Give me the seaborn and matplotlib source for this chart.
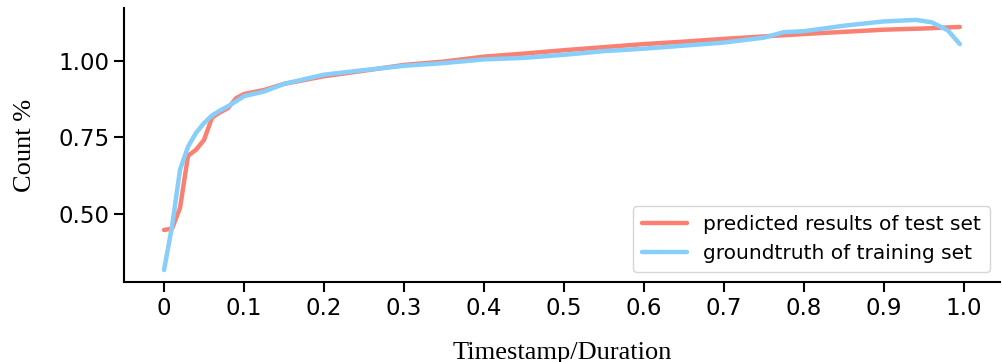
import pandas as pd
import matplotlib
matplotlib.use("Agg")
import matplotlib.pyplot as plt
import seaborn as sns

# predicted results of test set
x_pred = [0.00, 0.01, 0.02, 0.03, 0.04, 0.05, 0.06, 0.07, 0.08, 0.09, 0.10,
          0.125, 0.15, 0.20, 0.25, 0.30, 0.35, 0.40, 0.45, 0.50, 0.55, 0.60,
          0.65, 0.70, 0.75, 0.80, 0.85, 0.90, 0.95, 0.995]
y_pred = [0.448, 0.452, 0.520, 0.690, 0.710, 0.742, 0.815, 0.832, 0.846, 0.878, 0.892,
          0.905, 0.925, 0.950, 0.968, 0.987, 0.998, 1.014, 1.024, 1.035, 1.045, 1.055,
          1.063, 1.072, 1.080, 1.088, 1.095, 1.102, 1.106, 1.111]

# groundtruth of training set
x_true = [0.00, 0.01, 0.02, 0.03, 0.04, 0.05, 0.06, 0.07, 0.08, 0.09, 0.10,
          0.125, 0.15, 0.20, 0.25, 0.30, 0.35, 0.40, 0.45, 0.50, 0.55, 0.60,
          0.65, 0.70, 0.75, 0.775, 0.80, 0.85, 0.90, 0.94, 0.96, 0.98, 0.995]
y_true = [0.317, 0.460, 0.645, 0.720, 0.765, 0.797, 0.822, 0.838, 0.852, 0.868, 0.885,
          0.900, 0.925, 0.955, 0.970, 0.984, 0.993, 1.005, 1.010, 1.020, 1.032, 1.040,
          1.050, 1.060, 1.076, 1.094, 1.097, 1.115, 1.129, 1.134, 1.126, 1.100, 1.055]

xticks = [0, 0.1, 0.2, 0.3, 0.4, 0.5, 0.6, 0.7, 0.8, 0.9, 1.0]
xtick_labels = ["0", "0.1", "0.2", "0.3", "0.4", "0.5", "0.6", "0.7", "0.8", "0.9", "1.0"]
yticks = [0.50, 0.75, 1.00]

df_pred = pd.DataFrame({"x": x_pred, "y": y_pred})
df_true = pd.DataFrame({"x": x_true, "y": y_true})

sns.set_style("ticks")
plt.rcParams["font.family"] = ["DejaVu Sans"]
plt.rcParams["axes.linewidth"] = 1.5
plt.rcParams["text.color"] = "black"
plt.rcParams["axes.labelcolor"] = "black"
plt.rcParams["xtick.color"] = "black"
plt.rcParams["ytick.color"] = "black"

fig = plt.figure(figsize=(10.02, 3.62), dpi=100)
ax = fig.add_axes([0.1238, 0.221, 0.874, 0.757])

sns.lineplot(data=df_pred, x="x", y="y", ax=ax, color="salmon", linewidth=3.2,
             label="predicted results of test set")
sns.lineplot(data=df_true, x="x", y="y", ax=ax, color="lightskyblue", linewidth=3.2,
             label="groundtruth of training set")

ax.set_xlim(-0.05, 1.045)
ax.set_ylim(0.278, 1.173)
ax.set_xticks(xticks)
ax.set_xticklabels(xtick_labels)
ax.set_yticks(yticks)
ax.tick_params(axis="both", labelsize=16.5, length=7, width=1.5, color="black",
               labelcolor="black")
for s in ["left", "bottom"]:
    ax.spines[s].set_color("black")
sns.despine(ax=ax)

ax.set_xlabel("Timestamp/Duration", family="Liberation Serif", fontsize=19, labelpad=16)
ax.set_ylabel("Count %", family="Liberation Serif", fontsize=19, labelpad=16)

leg = ax.legend(loc="lower right", fontsize=14.5, frameon=True, fancybox=True,
                handlelength=2.2, borderpad=0.45, labelspacing=0.5)
for t in leg.get_texts():
    t.set_color("black")

fig.savefig("out.png", dpi=100)
